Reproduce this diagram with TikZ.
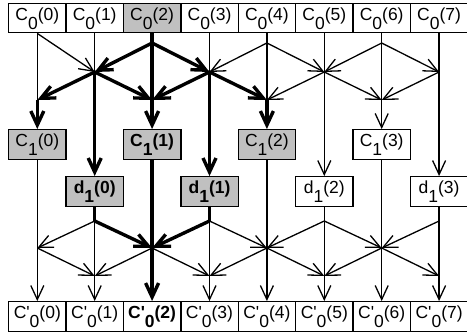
\documentclass[tikz,border=0pt]{standalone}
\usepackage{fontspec}
\setmainfont{Liberation Sans}
\usetikzlibrary{arrows.meta,calc}
\definecolor{boxgray}{RGB}{192,192,192}
% label with a full-size, lowered index: \lbl{C}{0}{(3)}
\newcommand\lbl[3]{#1\raisebox{-0.5em}[0pt][0pt]{#2}#3}
\newcommand\cprime{C\textquotesingle}

\begin{document}
\begin{tikzpicture}[x=1pt,y=-1pt,
  cell/.style={draw, line width=1.4pt, minimum width=57.4pt, minimum height=29.5pt,
    inner sep=0pt, text height=0.75em, text depth=0.25em,
    font=\fontsize{17.5}{18}\selectfont},
  hot/.style={fill=boxgray},
  strong/.style={font=\fontsize{17.5}{18}\selectfont\bfseries},
  wire/.style={line width=1.3pt},
  boldwire/.style={line width=3.4pt},
  tip/.style={-{Straight Barb[length=14pt,width=13pt]}},
]
\useasboundingbox (0,0) rectangle (467,334);

% column positions and the junction points of the lifting steps
\foreach \k in {0,...,7} {
  \coordinate (col\k) at ({37.3+57.4*\k},0);
}
\foreach \k in {0,2,4,6} {
  \coordinate (e\k) at ($(col\k)+(0,43)$);
  \coordinate (u\k) at ($(col\k)+(0,100)$);
  \coordinate (r\k) at ($(col\k)+(0,248)$);
}
\foreach \k in {1,3,5,7} {
  \coordinate (p\k) at ($(col\k)+(0,72)$);
  \coordinate (q\k) at ($(col\k)+(0,221)$);
  \coordinate (s\k) at ($(col\k)+(0,276)$);
}

% input row
\foreach \k in {0,1,3,4,5,6,7} {
  \node[cell] (c0-\k) at ($(col\k)+(0,18)$) {\lbl{C}{0}{(\k)}};
}
\node[cell,hot] (c0-2) at ($(col2)+(0,18)$) {\lbl{C}{0}{(2)}};

% coarse coefficients
\node[cell,hot] (c1-0) at ($(col0)+(0,144.5)$) {\lbl{C}{1}{(0)}};
\node[cell,hot,strong] (c1-1) at ($(col2)+(0,144.5)$) {\lbl{C}{1}{(1)}};
\node[cell,hot] (c1-2) at ($(col4)+(0,144.5)$) {\lbl{C}{1}{(2)}};
\node[cell] (c1-3) at ($(col6)+(0,144.5)$) {\lbl{C}{1}{(3)}};

% detail coefficients
\node[cell,hot,strong] (d1-0) at ($(col1)+(0,191.5)$) {\lbl{d}{1}{(0)}};
\node[cell,hot,strong] (d1-1) at ($(col3)+(0,191.5)$) {\lbl{d}{1}{(1)}};
\node[cell] (d1-2) at ($(col5)+(0,191.5)$) {\lbl{d}{1}{(2)}};
\node[cell] (d1-3) at ($(col7)+(0,191.5)$) {\lbl{d}{1}{(3)}};

% reconstructed row
\foreach \k in {0,1,3,4,5,6,7} {
  \node[cell] (c0p-\k) at ($(col\k)+(0,316.5)$) {\lbl{\cprime}{0}{(\k)}};
}
\node[cell,strong] (c0p-2) at ($(col2)+(0,316.5)$) {\lbl{\cprime}{0}{(2)}};

% ---- forward transform: vertical paths
\draw[wire] (c0-0.south) -- (u0);
\draw[boldwire,tip] (u0) -- (c1-0.north);
\draw[wire] (c0-1.south) -- (p1);
\draw[boldwire,tip] (p1) -- (d1-0.north);
\draw[boldwire,tip] (c0-2.south) -- (c1-1.north);
\draw[wire] (c0-3.south) -- (p3);
\draw[boldwire,tip] (p3) -- (d1-1.north);
\draw[wire] (c0-4.south) -- (u4);
\draw[boldwire,tip] (u4) -- (c1-2.north);
\draw[wire,tip] (c0-5.south) -- (d1-2.north);
\draw[wire,tip] (c0-6.south) -- (c1-3.north);
\draw[wire,tip] (c0-7.south) -- (d1-3.north);

% ---- forward transform: predict step
\draw[wire,tip] (c0-0.south) -- (p1);
\draw[boldwire,tip] (e2) -- (p1);
\draw[boldwire,tip] (e2) -- (p3);
\draw[wire,tip] (e4) -- (p3);
\draw[wire,tip] (e4) -- (p5);
\draw[wire,tip] (e6) -- (p5);
\draw[wire,tip] (e6) -- (p7);

% ---- forward transform: update step
\draw[boldwire,tip] (p1) -- (u0);
\draw[boldwire,tip] (p1) -- (u2);
\draw[boldwire,tip] (p3) -- (u2);
\draw[boldwire,tip] (p3) -- (u4);
\draw[wire,tip] (p5) -- (u4);
\draw[wire,tip] (p5) -- (u6);
\draw[wire,tip] (p7) -- (u6);

% ---- inverse transform: vertical paths
\draw[wire,tip] (c1-0.south) -- (c0p-0.north);
\draw[boldwire] (d1-0.south) -- (q1);
\draw[wire,tip] (q1) -- (c0p-1.north);
\draw[boldwire,tip] (c1-1.south) -- (c0p-2.north);
\draw[boldwire] (d1-1.south) -- (q3);
\draw[wire,tip] (q3) -- (c0p-3.north);
\draw[wire,tip] (c1-2.south) -- (c0p-4.north);
\draw[wire,tip] (d1-2.south) -- (c0p-5.north);
\draw[wire,tip] (c1-3.south) -- (c0p-6.north);
\draw[wire,tip] (d1-3.south) -- (c0p-7.north);

% ---- inverse update
\draw[wire,tip] (q1) -- (r0);
\draw[boldwire,tip] (q1) -- (r2);
\draw[boldwire,tip] (q3) -- (r2);
\draw[wire,tip] (q3) -- (r4);
\draw[wire,tip] (q5) -- (r4);
\draw[wire,tip] (q5) -- (r6);
\draw[wire,tip] (q7) -- (r6);

% ---- inverse predict
\draw[wire,tip] (r0) -- (s1);
\draw[wire,tip] (r2) -- (s1);
\draw[wire,tip] (r2) -- (s3);
\draw[wire,tip] (r4) -- (s3);
\draw[wire,tip] (r4) -- (s5);
\draw[wire,tip] (r6) -- (s5);
\draw[wire,tip] (r6) -- (s7);
\end{tikzpicture}
\end{document}
